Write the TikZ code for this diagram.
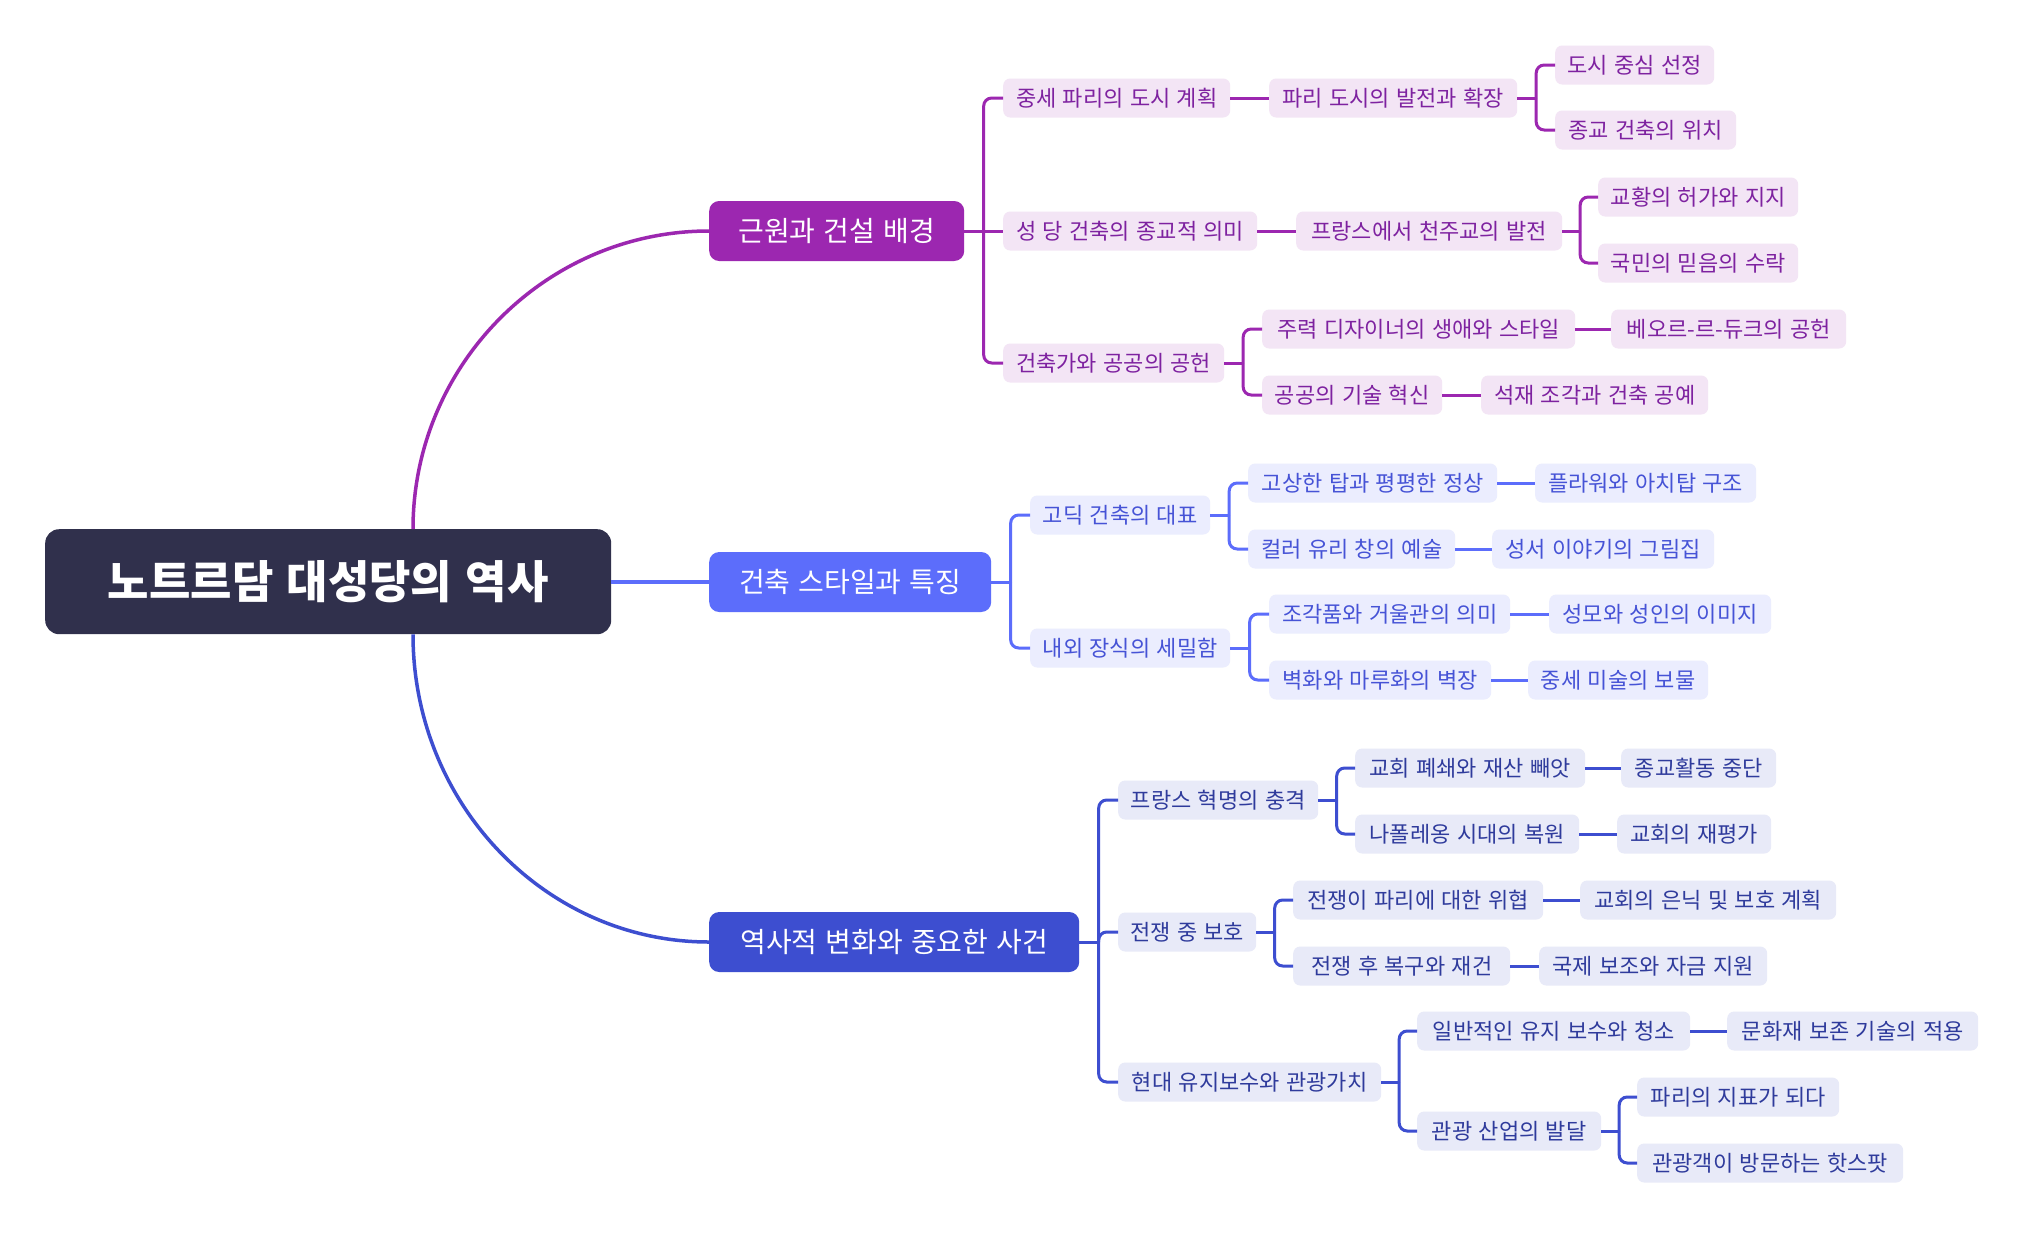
\documentclass[tikz,border=0pt]{standalone}
\usepackage{fontspec}
\setmainfont[WordSpace=1.3]{Noto Sans CJK KR}
\usetikzlibrary{calc}
\definecolor{rootc}{HTML}{30304C}
\definecolor{pmain}{HTML}{9C27B0}
\definecolor{plight}{HTML}{F3E5F5}
\definecolor{ptext}{HTML}{7E22A0}
\definecolor{bmain}{HTML}{5C6DFB}
\definecolor{blight}{HTML}{EBEDFE}
\definecolor{btext}{HTML}{4653D6}
\definecolor{dmain}{HTML}{3D4ED0}
\definecolor{dlight}{HTML}{E8EAF8}
\definecolor{dtext}{HTML}{2F3B9C}
\tikzset{
  leaf/.style={anchor=west, rounded corners=7pt, minimum height=39pt, inner sep=0pt,
    font=\fontsize{22}{26}\selectfont},
  pn/.style={leaf, fill=plight, text=ptext},
  bn/.style={leaf, fill=blight, text=btext},
  dn/.style={leaf, fill=dlight, text=dtext},
  topic/.style={anchor=west, rounded corners=10pt, minimum height=60pt, inner sep=0pt,
    text=white, font=\fontsize{28}{33}\selectfont},
  pl/.style={draw=pmain, line width=3pt},
  bl/.style={draw=bmain, line width=3pt},
  dl/.style={draw=dmain, line width=3pt},
}
\newcommand\mmspine[3]{%
  \coordinate (#2s) at ($(#2.east)!0.5!(#2.east -| #3.west)$);
  \draw[#1] (#2.east) -- (#2s);}
\newcommand\mmtwig[3]{\draw[#1, rounded corners=8pt] (#2s) |- (#3.west);}
\begin{document}
\begin{tikzpicture}[x=1pt, y=-1pt]
\useasboundingbox[fill=white] (0,0) rectangle (2024,1245);

% root
\node[anchor=north west, fill=rootc, rounded corners=14pt, minimum width=566pt, minimum height=105pt,
  inner sep=0pt, text=white, font=\fontsize{45}{52}\selectfont\bfseries] (root) at (45,529) {노트르담 대성당의 역사};

% level 1
\node[topic, fill=pmain, minimum width=255pt] (P) at (709,231) {근원과 건설 배경};
\node[topic, fill=bmain, minimum width=282pt] (B) at (709,582) {건축 스타일과 특징};
\node[topic, fill=dmain, minimum width=370pt] (D) at (709,942) {역사적 변화와 중요한 사건};

\coordinate (rt) at ($(root.north west)+(368,0)$);
\coordinate (rb) at ($(root.south west)+(368,0)$);
\draw[pmain, line width=3.5pt] (rt) .. controls ($(rt)+(0,-164)$) and ($(P.west)+(-163,0)$) .. (P.west);
\draw[bmain, line width=3.5pt] (root.east |- B.west) -- (B.west);
\draw[dmain, line width=3.5pt] (rb) .. controls ($(rb)+(0,170)$) and ($(D.west)+(-163,0)$) .. (D.west);

% purple branch
\node[pn, minimum width=227pt] (pa) at (1003,98) {중세 파리의 도시 계획};
\node[pn, minimum width=248pt] (pa1) at (1269,98) {파리 도시의 발전과 확장};
\node[pn, minimum width=159pt] (pa11) at (1555,65) {도시 중심 선정};
\node[pn, minimum width=181pt] (pa12) at (1555,130) {종교 건축의 위치};
\node[pn, minimum width=254pt] (pb) at (1003,231) {성 당 건축의 종교적 의미};
\node[pn, minimum width=266pt] (pb1) at (1296,231) {프랑스에서 천주교의 발전};
\node[pn, minimum width=200pt] (pb11) at (1598,197) {교황의 허가와 지지};
\node[pn, minimum width=200pt] (pb12) at (1598,263) {국민의 믿음의 수락};
\node[pn, minimum width=221pt] (pc) at (1003,363) {건축가와 공공의 공헌};
\node[pn, minimum width=313pt] (pc1) at (1262,329) {주력 디자이너의 생애와 스타일};
\node[pn, minimum width=235pt] (pc11) at (1611,329) {베오르-르-듀크의 공헌};
\node[pn, minimum width=180pt] (pc2) at (1262,395) {공공의 기술 혁신};
\node[pn, minimum width=227pt] (pc21) at (1481,395) {석재 조각과 건축 공예};

\mmspine{pl}{P}{pa}
\mmtwig{pl}{P}{pa}
\draw[pl] (P.east) -- (pb.west);
\mmtwig{pl}{P}{pc}
\draw[pl] (pa.east) -- (pa1.west);
\mmspine{pl}{pa1}{pa11}
\mmtwig{pl}{pa1}{pa11}
\mmtwig{pl}{pa1}{pa12}
\draw[pl] (pb.east) -- (pb1.west);
\mmspine{pl}{pb1}{pb11}
\mmtwig{pl}{pb1}{pb11}
\mmtwig{pl}{pb1}{pb12}
\mmspine{pl}{pc}{pc1}
\mmtwig{pl}{pc}{pc1}
\mmtwig{pl}{pc}{pc2}
\draw[pl] (pc1.east) -- (pc11.west);
\draw[pl] (pc2.east) -- (pc21.west);

% blue branch
\node[bn, minimum width=180pt] (ba) at (1030,515) {고딕 건축의 대표};
\node[bn, minimum width=249pt] (ba1) at (1248,483) {고상한 탑과 평평한 정상};
\node[bn, minimum width=221pt] (ba11) at (1535,483) {플라워와 아치탑 구조};
\node[bn, minimum width=207pt] (ba2) at (1248,549) {컬러 유리 창의 예술};
\node[bn, minimum width=222pt] (ba21) at (1492,549) {성서 이야기의 그림집};
\node[bn, minimum width=200pt] (bb) at (1030,648) {내외 장식의 세밀함};
\node[bn, minimum width=241pt] (bb1) at (1269,614) {조각품와 거울관의 의미};
\node[bn, minimum width=222pt] (bb11) at (1549,614) {성모와 성인의 이미지};
\node[bn, minimum width=222pt] (bb2) at (1269,680) {벽화와 마루화의 벽장};
\node[bn, minimum width=180pt] (bb21) at (1528,680) {중세 미술의 보물};

\mmspine{bl}{B}{ba}
\mmtwig{bl}{B}{ba}
\mmtwig{bl}{B}{bb}
\mmspine{bl}{ba}{ba1}
\mmtwig{bl}{ba}{ba1}
\mmtwig{bl}{ba}{ba2}
\draw[bl] (ba1.east) -- (ba11.west);
\draw[bl] (ba2.east) -- (ba21.west);
\mmspine{bl}{bb}{bb1}
\mmtwig{bl}{bb}{bb1}
\mmtwig{bl}{bb}{bb2}
\draw[bl] (bb1.east) -- (bb11.west);
\draw[bl] (bb2.east) -- (bb21.west);

% dark blue branch
\node[dn, minimum width=200pt] (da) at (1118,800) {프랑스 혁명의 충격};
\node[dn, minimum width=230pt] (da1) at (1355,768) {교회 폐쇄와 재산 빼앗};
\node[dn, minimum width=155pt] (da11) at (1621,768) {종교활동 중단};
\node[dn, minimum width=224pt] (da2) at (1355,834) {나폴레옹 시대의 복원};
\node[dn, minimum width=154pt] (da21) at (1617,834) {교회의 재평가};
\node[dn, minimum width=138pt] (db) at (1118,932) {전쟁 중 보호};
\node[dn, minimum width=250pt] (db1) at (1293,900) {전쟁이 파리에 대한 위협};
\node[dn, minimum width=256pt] (db11) at (1580,900) {교회의 은닉 및 보호 계획};
\node[dn, minimum width=217pt] (db2) at (1293,966) {전쟁 후 복구와 재건};
\node[dn, minimum width=228pt] (db21) at (1539,966) {국제 보조와 자금 지원};
\node[dn, minimum width=263pt] (dc) at (1118,1082) {현대 유지보수와 관광가치};
\node[dn, minimum width=273pt] (dc1) at (1417,1031) {일반적인 유지 보수와 청소};
\node[dn, minimum width=251pt] (dc11) at (1727,1031) {문화재 보존 기술의 적용};
\node[dn, minimum width=184pt] (dc2) at (1417,1131) {관광 산업의 발달};
\node[dn, minimum width=202pt] (dc21) at (1637,1097) {파리의 지표가 되다};
\node[dn, minimum width=266pt] (dc22) at (1637,1163) {관광객이 방문하는 핫스팟};

\mmspine{dl}{D}{da}
\mmtwig{dl}{D}{da}
\mmtwig{dl}{D}{db}
\mmtwig{dl}{D}{dc}
\mmspine{dl}{da}{da1}
\mmtwig{dl}{da}{da1}
\mmtwig{dl}{da}{da2}
\draw[dl] (da1.east) -- (da11.west);
\draw[dl] (da2.east) -- (da21.west);
\mmspine{dl}{db}{db1}
\mmtwig{dl}{db}{db1}
\mmtwig{dl}{db}{db2}
\draw[dl] (db1.east) -- (db11.west);
\draw[dl] (db2.east) -- (db21.west);
\mmspine{dl}{dc}{dc1}
\mmtwig{dl}{dc}{dc1}
\mmtwig{dl}{dc}{dc2}
\draw[dl] (dc1.east) -- (dc11.west);
\mmspine{dl}{dc2}{dc21}
\mmtwig{dl}{dc2}{dc21}
\mmtwig{dl}{dc2}{dc22}
\end{tikzpicture}
\end{document}
